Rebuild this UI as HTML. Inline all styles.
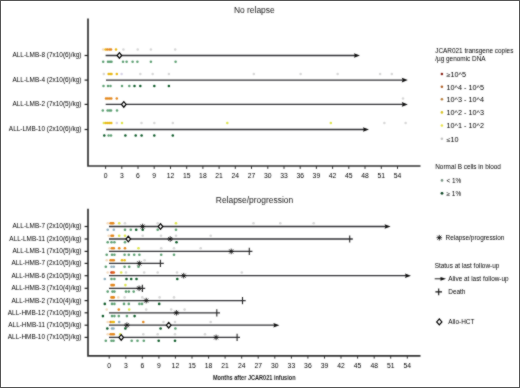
<!DOCTYPE html>
<html><head><meta charset="utf-8"><style>
html,body{margin:0;padding:0;background:#fff;}
svg{display:block;font-family:"Liberation Sans", sans-serif;}
</style></head><body>
<svg width="520" height="388" viewBox="0 0 520 388">
<defs><filter id="bl" x="0" y="0" width="520" height="388" filterUnits="userSpaceOnUse" color-interpolation-filters="sRGB"><feConvolveMatrix order="3" kernelMatrix="1 2 1 2 16 2 1 2 1" divisor="28.0" edgeMode="duplicate"/></filter></defs>
<rect x="0" y="0" width="520" height="388" fill="#fff"/>
<g filter="url(#bl)"><rect x="0" y="0" width="520" height="388" fill="#fff"/>
<text x="254.3" y="13" font-size="8.45" text-anchor="middle" fill="#1a1a1a" >No relapse</text>
<text x="254.5" y="203" font-size="8.45" text-anchor="middle" fill="#1a1a1a" >Relapse/progression</text>
<path d="M88 18.5V166H420.5" fill="none" stroke="#333" stroke-width="1.7"/>
<path d="M105.6 166V168.9" stroke="#333" stroke-width="1"/>
<text x="105.6" y="178.1" font-size="6.3" text-anchor="middle" fill="#000" transform="translate(105.6 0) scale(1.08 1) translate(-105.6 0)">0</text>
<path d="M121.8 166V168.9" stroke="#333" stroke-width="1"/>
<text x="121.8" y="178.1" font-size="6.3" text-anchor="middle" fill="#000" transform="translate(121.8 0) scale(1.08 1) translate(-121.8 0)">3</text>
<path d="M138.0 166V168.9" stroke="#333" stroke-width="1"/>
<text x="138.0" y="178.1" font-size="6.3" text-anchor="middle" fill="#000" transform="translate(138.0 0) scale(1.08 1) translate(-138.0 0)">6</text>
<path d="M154.2 166V168.9" stroke="#333" stroke-width="1"/>
<text x="154.2" y="178.1" font-size="6.3" text-anchor="middle" fill="#000" transform="translate(154.2 0) scale(1.08 1) translate(-154.2 0)">9</text>
<path d="M170.5 166V168.9" stroke="#333" stroke-width="1"/>
<text x="170.5" y="178.1" font-size="6.3" text-anchor="middle" fill="#000" transform="translate(170.5 0) scale(1.08 1) translate(-170.5 0)">12</text>
<path d="M186.7 166V168.9" stroke="#333" stroke-width="1"/>
<text x="186.7" y="178.1" font-size="6.3" text-anchor="middle" fill="#000" transform="translate(186.7 0) scale(1.08 1) translate(-186.7 0)">15</text>
<path d="M202.9 166V168.9" stroke="#333" stroke-width="1"/>
<text x="202.9" y="178.1" font-size="6.3" text-anchor="middle" fill="#000" transform="translate(202.9 0) scale(1.08 1) translate(-202.9 0)">18</text>
<path d="M219.1 166V168.9" stroke="#333" stroke-width="1"/>
<text x="219.1" y="178.1" font-size="6.3" text-anchor="middle" fill="#000" transform="translate(219.1 0) scale(1.08 1) translate(-219.1 0)">21</text>
<path d="M235.3 166V168.9" stroke="#333" stroke-width="1"/>
<text x="235.3" y="178.1" font-size="6.3" text-anchor="middle" fill="#000" transform="translate(235.3 0) scale(1.08 1) translate(-235.3 0)">24</text>
<path d="M251.5 166V168.9" stroke="#333" stroke-width="1"/>
<text x="251.5" y="178.1" font-size="6.3" text-anchor="middle" fill="#000" transform="translate(251.5 0) scale(1.08 1) translate(-251.5 0)">27</text>
<path d="M267.8 166V168.9" stroke="#333" stroke-width="1"/>
<text x="267.8" y="178.1" font-size="6.3" text-anchor="middle" fill="#000" transform="translate(267.8 0) scale(1.08 1) translate(-267.8 0)">30</text>
<path d="M284.0 166V168.9" stroke="#333" stroke-width="1"/>
<text x="284.0" y="178.1" font-size="6.3" text-anchor="middle" fill="#000" transform="translate(284.0 0) scale(1.08 1) translate(-284.0 0)">33</text>
<path d="M300.2 166V168.9" stroke="#333" stroke-width="1"/>
<text x="300.2" y="178.1" font-size="6.3" text-anchor="middle" fill="#000" transform="translate(300.2 0) scale(1.08 1) translate(-300.2 0)">36</text>
<path d="M316.4 166V168.9" stroke="#333" stroke-width="1"/>
<text x="316.4" y="178.1" font-size="6.3" text-anchor="middle" fill="#000" transform="translate(316.4 0) scale(1.08 1) translate(-316.4 0)">39</text>
<path d="M332.6 166V168.9" stroke="#333" stroke-width="1"/>
<text x="332.6" y="178.1" font-size="6.3" text-anchor="middle" fill="#000" transform="translate(332.6 0) scale(1.08 1) translate(-332.6 0)">42</text>
<path d="M348.8 166V168.9" stroke="#333" stroke-width="1"/>
<text x="348.8" y="178.1" font-size="6.3" text-anchor="middle" fill="#000" transform="translate(348.8 0) scale(1.08 1) translate(-348.8 0)">45</text>
<path d="M365.0 166V168.9" stroke="#333" stroke-width="1"/>
<text x="365.0" y="178.1" font-size="6.3" text-anchor="middle" fill="#000" transform="translate(365.0 0) scale(1.08 1) translate(-365.0 0)">48</text>
<path d="M381.3 166V168.9" stroke="#333" stroke-width="1"/>
<text x="381.3" y="178.1" font-size="6.3" text-anchor="middle" fill="#000" transform="translate(381.3 0) scale(1.08 1) translate(-381.3 0)">51</text>
<path d="M397.5 166V168.9" stroke="#333" stroke-width="1"/>
<text x="397.5" y="178.1" font-size="6.3" text-anchor="middle" fill="#000" transform="translate(397.5 0) scale(1.08 1) translate(-397.5 0)">54</text>
<path d="M88 208.8V355.8H420.5" fill="none" stroke="#333" stroke-width="1.7"/>
<path d="M109.2 355.8V358.6" stroke="#333" stroke-width="1"/>
<text x="109.2" y="368.1" font-size="6.3" text-anchor="middle" fill="#000" transform="translate(109.2 0) scale(1.08 1) translate(-109.2 0)">0</text>
<path d="M125.8 355.8V358.6" stroke="#333" stroke-width="1"/>
<text x="125.8" y="368.1" font-size="6.3" text-anchor="middle" fill="#000" transform="translate(125.8 0) scale(1.08 1) translate(-125.8 0)">3</text>
<path d="M142.3 355.8V358.6" stroke="#333" stroke-width="1"/>
<text x="142.3" y="368.1" font-size="6.3" text-anchor="middle" fill="#000" transform="translate(142.3 0) scale(1.08 1) translate(-142.3 0)">6</text>
<path d="M158.9 355.8V358.6" stroke="#333" stroke-width="1"/>
<text x="158.9" y="368.1" font-size="6.3" text-anchor="middle" fill="#000" transform="translate(158.9 0) scale(1.08 1) translate(-158.9 0)">9</text>
<path d="M175.4 355.8V358.6" stroke="#333" stroke-width="1"/>
<text x="175.4" y="368.1" font-size="6.3" text-anchor="middle" fill="#000" transform="translate(175.4 0) scale(1.08 1) translate(-175.4 0)">12</text>
<path d="M192.0 355.8V358.6" stroke="#333" stroke-width="1"/>
<text x="192.0" y="368.1" font-size="6.3" text-anchor="middle" fill="#000" transform="translate(192.0 0) scale(1.08 1) translate(-192.0 0)">15</text>
<path d="M208.6 355.8V358.6" stroke="#333" stroke-width="1"/>
<text x="208.6" y="368.1" font-size="6.3" text-anchor="middle" fill="#000" transform="translate(208.6 0) scale(1.08 1) translate(-208.6 0)">18</text>
<path d="M225.1 355.8V358.6" stroke="#333" stroke-width="1"/>
<text x="225.1" y="368.1" font-size="6.3" text-anchor="middle" fill="#000" transform="translate(225.1 0) scale(1.08 1) translate(-225.1 0)">21</text>
<path d="M241.7 355.8V358.6" stroke="#333" stroke-width="1"/>
<text x="241.7" y="368.1" font-size="6.3" text-anchor="middle" fill="#000" transform="translate(241.7 0) scale(1.08 1) translate(-241.7 0)">24</text>
<path d="M258.2 355.8V358.6" stroke="#333" stroke-width="1"/>
<text x="258.2" y="368.1" font-size="6.3" text-anchor="middle" fill="#000" transform="translate(258.2 0) scale(1.08 1) translate(-258.2 0)">27</text>
<path d="M274.8 355.8V358.6" stroke="#333" stroke-width="1"/>
<text x="274.8" y="368.1" font-size="6.3" text-anchor="middle" fill="#000" transform="translate(274.8 0) scale(1.08 1) translate(-274.8 0)">30</text>
<path d="M291.4 355.8V358.6" stroke="#333" stroke-width="1"/>
<text x="291.4" y="368.1" font-size="6.3" text-anchor="middle" fill="#000" transform="translate(291.4 0) scale(1.08 1) translate(-291.4 0)">33</text>
<path d="M307.9 355.8V358.6" stroke="#333" stroke-width="1"/>
<text x="307.9" y="368.1" font-size="6.3" text-anchor="middle" fill="#000" transform="translate(307.9 0) scale(1.08 1) translate(-307.9 0)">36</text>
<path d="M324.5 355.8V358.6" stroke="#333" stroke-width="1"/>
<text x="324.5" y="368.1" font-size="6.3" text-anchor="middle" fill="#000" transform="translate(324.5 0) scale(1.08 1) translate(-324.5 0)">39</text>
<path d="M341.0 355.8V358.6" stroke="#333" stroke-width="1"/>
<text x="341.0" y="368.1" font-size="6.3" text-anchor="middle" fill="#000" transform="translate(341.0 0) scale(1.08 1) translate(-341.0 0)">42</text>
<path d="M357.6 355.8V358.6" stroke="#333" stroke-width="1"/>
<text x="357.6" y="368.1" font-size="6.3" text-anchor="middle" fill="#000" transform="translate(357.6 0) scale(1.08 1) translate(-357.6 0)">45</text>
<path d="M374.2 355.8V358.6" stroke="#333" stroke-width="1"/>
<text x="374.2" y="368.1" font-size="6.3" text-anchor="middle" fill="#000" transform="translate(374.2 0) scale(1.08 1) translate(-374.2 0)">48</text>
<path d="M390.7 355.8V358.6" stroke="#333" stroke-width="1"/>
<text x="390.7" y="368.1" font-size="6.3" text-anchor="middle" fill="#000" transform="translate(390.7 0) scale(1.08 1) translate(-390.7 0)">51</text>
<path d="M407.3 355.8V358.6" stroke="#333" stroke-width="1"/>
<text x="407.3" y="368.1" font-size="6.3" text-anchor="middle" fill="#000" transform="translate(407.3 0) scale(1.08 1) translate(-407.3 0)">54</text>
<text x="254.25" y="380.4" font-size="8.1" text-anchor="middle" fill="#1a1a1a" transform="translate(254.25 0) scale(0.69 1) translate(-254.25 0)" font-weight="bold">Months after JCAR021 infusion</text>
<text x="81.5" y="57.4" font-size="6.45" text-anchor="end" fill="#000" >ALL-LMB-8 (7x10(6)/kg)</text>
<path d="M84.6 55.5H88" stroke="#222" stroke-width="1.2"/>
<text x="81.5" y="82.0" font-size="6.45" text-anchor="end" fill="#000" >ALL-LMB-4 (2x10(6)/kg)</text>
<path d="M84.6 80.1H88" stroke="#222" stroke-width="1.2"/>
<text x="81.5" y="106.3" font-size="6.45" text-anchor="end" fill="#000" >ALL-LMB-2 (7x10(5)/kg)</text>
<path d="M84.6 104.4H88" stroke="#222" stroke-width="1.2"/>
<text x="81.5" y="131.4" font-size="6.45" text-anchor="end" fill="#000" >ALL-LMB-10 (2x10(6)/kg)</text>
<path d="M84.6 129.5H88" stroke="#222" stroke-width="1.2"/>
<text x="81.5" y="228.4" font-size="6.45" text-anchor="end" fill="#000" >ALL-LMB-7 (2x10(6)/kg)</text>
<path d="M84.6 226.5H88" stroke="#222" stroke-width="1.2"/>
<text x="81.5" y="240.9" font-size="6.45" text-anchor="end" fill="#000" >ALL-LMB-11 (2x10(6)/kg)</text>
<path d="M84.6 239.0H88" stroke="#222" stroke-width="1.2"/>
<text x="81.5" y="253.3" font-size="6.45" text-anchor="end" fill="#000" >ALL-LMB-1 (7x10(5)/kg)</text>
<path d="M84.6 251.4H88" stroke="#222" stroke-width="1.2"/>
<text x="81.5" y="265.3" font-size="6.45" text-anchor="end" fill="#000" >ALL-HMB-7 (2x10(5)/kg)</text>
<path d="M84.6 263.4H88" stroke="#222" stroke-width="1.2"/>
<text x="81.5" y="277.6" font-size="6.45" text-anchor="end" fill="#000" >ALL-HMB-6 (2x10(5)/kg)</text>
<path d="M84.6 275.7H88" stroke="#222" stroke-width="1.2"/>
<text x="81.5" y="290.2" font-size="6.45" text-anchor="end" fill="#000" >ALL-HMB-3 (7x10(4)/kg)</text>
<path d="M84.6 288.3H88" stroke="#222" stroke-width="1.2"/>
<text x="81.5" y="302.5" font-size="6.45" text-anchor="end" fill="#000" >ALL-HMB-2 (7x10(4)/kg)</text>
<path d="M84.6 300.6H88" stroke="#222" stroke-width="1.2"/>
<text x="81.5" y="314.7" font-size="6.45" text-anchor="end" fill="#000" >ALL-HMB-12 (7x10(5)/kg)</text>
<path d="M84.6 312.8H88" stroke="#222" stroke-width="1.2"/>
<text x="81.5" y="327.1" font-size="6.45" text-anchor="end" fill="#000" >ALL-HMB-11 (7x10(5)/kg)</text>
<path d="M84.6 325.2H88" stroke="#222" stroke-width="1.2"/>
<text x="81.5" y="339.3" font-size="6.45" text-anchor="end" fill="#000" >ALL-HMB-10 (7x10(5)/kg)</text>
<path d="M84.6 337.4H88" stroke="#222" stroke-width="1.2"/>
<path d="M105.6 55.5H355.0" stroke="#303034" stroke-width="1.3"/>
<path d="M354.0 53.2L360.0 55.5L354.0 57.8L354.8 55.5Z" fill="#111"/>
<circle cx="103.1" cy="49.5" r="1.25" fill="#f4dcc0"/>
<circle cx="105.5" cy="49.5" r="1.25" fill="#e8b812"/>
<circle cx="107.3" cy="49.5" r="1.25" fill="#e3861a"/>
<circle cx="109.4" cy="49.5" r="1.25" fill="#e3861a"/>
<circle cx="111.0" cy="49.5" r="1.25" fill="#e3861a"/>
<circle cx="116.0" cy="49.5" r="1.25" fill="#e8b812"/>
<circle cx="123.4" cy="49.5" r="1.25" fill="#d6d6d6"/>
<circle cx="137.7" cy="49.5" r="1.25" fill="#d6d6d6"/>
<circle cx="150.9" cy="49.5" r="1.25" fill="#d6d6d6"/>
<circle cx="175.2" cy="49.5" r="1.25" fill="#d6d6d6"/>
<circle cx="103.2" cy="61.8" r="1.25" fill="#5c9f72"/>
<circle cx="108.0" cy="61.8" r="1.25" fill="#5c9f72"/>
<circle cx="110.0" cy="61.8" r="1.25" fill="#5c9f72"/>
<circle cx="111.5" cy="61.8" r="1.25" fill="#5c9f72"/>
<circle cx="123.0" cy="61.8" r="1.25" fill="#5c9f72"/>
<circle cx="126.6" cy="61.8" r="1.25" fill="#5c9f72"/>
<circle cx="132.6" cy="61.8" r="1.25" fill="#5c9f72"/>
<circle cx="137.4" cy="61.8" r="1.25" fill="#5c9f72"/>
<circle cx="150.9" cy="61.8" r="1.25" fill="#5c9f72"/>
<circle cx="175.6" cy="61.8" r="1.25" fill="#5c9f72"/>
<path d="M119.4 52.7L121.7 55.5L119.4 58.2L117.1 55.5Z" fill="#fff" stroke="#000" stroke-width="1.2"/>
<path d="M106.0 80.1H402.8" stroke="#303034" stroke-width="1.3"/>
<path d="M401.8 77.8L407.8 80.1L401.8 82.4L402.6 80.1Z" fill="#111"/>
<circle cx="103.8" cy="74.1" r="1.25" fill="#d6d6d6"/>
<circle cx="108.6" cy="74.1" r="1.25" fill="#e8b812"/>
<circle cx="110.2" cy="74.1" r="1.25" fill="#e8b812"/>
<circle cx="111.5" cy="74.1" r="1.25" fill="#e8b812"/>
<circle cx="116.8" cy="74.1" r="1.25" fill="#e8b812"/>
<circle cx="121.6" cy="74.1" r="1.25" fill="#d6d2e6"/>
<circle cx="140.3" cy="74.1" r="1.25" fill="#d6d6d6"/>
<circle cx="152.7" cy="74.1" r="1.25" fill="#d6d6d6"/>
<circle cx="168.9" cy="74.1" r="1.25" fill="#d6d6d6"/>
<circle cx="253.8" cy="74.1" r="1.25" fill="#d6d6d6"/>
<circle cx="300.6" cy="74.1" r="1.25" fill="#d6d6d6"/>
<circle cx="337.6" cy="74.1" r="1.25" fill="#d6d6d6"/>
<circle cx="380.1" cy="74.1" r="1.25" fill="#d6d6d6"/>
<circle cx="391.8" cy="74.1" r="1.25" fill="#d6d6d6"/>
<circle cx="103.5" cy="86.1" r="1.25" fill="#5c9f72"/>
<circle cx="108.0" cy="86.1" r="1.25" fill="#5c9f72"/>
<circle cx="110.5" cy="86.1" r="1.25" fill="#5c9f72"/>
<circle cx="122.0" cy="86.1" r="1.25" fill="#5c9f72"/>
<circle cx="129.3" cy="86.1" r="1.25" fill="#5c9f72"/>
<circle cx="134.5" cy="86.1" r="1.25" fill="#0c5a28"/>
<circle cx="140.3" cy="86.1" r="1.25" fill="#0c5a28"/>
<circle cx="154.3" cy="86.1" r="1.25" fill="#0c5a28"/>
<circle cx="168.9" cy="86.1" r="1.25" fill="#0c5a28"/>
<path d="M105.7 104.4H402.8" stroke="#303034" stroke-width="1.3"/>
<path d="M401.8 102.1L407.8 104.4L401.8 106.7L402.6 104.4Z" fill="#111"/>
<circle cx="106.0" cy="98.6" r="1.25" fill="#e3861a"/>
<circle cx="107.8" cy="98.6" r="1.25" fill="#e3861a"/>
<circle cx="109.6" cy="98.6" r="1.25" fill="#e3861a"/>
<circle cx="111.3" cy="98.6" r="1.25" fill="#e3861a"/>
<circle cx="116.8" cy="98.6" r="1.25" fill="#e3861a"/>
<circle cx="403.0" cy="98.6" r="1.25" fill="#d6d6d6"/>
<circle cx="102.8" cy="110.6" r="1.25" fill="#5c9f72"/>
<circle cx="107.6" cy="110.6" r="1.25" fill="#5c9f72"/>
<circle cx="109.4" cy="110.6" r="1.25" fill="#5c9f72"/>
<circle cx="111.0" cy="110.6" r="1.25" fill="#5c9f72"/>
<circle cx="117.0" cy="110.6" r="1.25" fill="#5c9f72"/>
<path d="M123.8 101.6L126.1 104.4L123.8 107.2L121.5 104.4Z" fill="#fff" stroke="#000" stroke-width="1.2"/>
<path d="M106.2 129.5H364.0" stroke="#303034" stroke-width="1.3"/>
<path d="M363.0 127.2L369.0 129.5L363.0 131.8L363.8 129.5Z" fill="#111"/>
<circle cx="103.8" cy="123.1" r="1.25" fill="#dde44a"/>
<circle cx="105.8" cy="123.1" r="1.25" fill="#e8b812"/>
<circle cx="107.8" cy="123.1" r="1.25" fill="#e8b812"/>
<circle cx="109.6" cy="123.1" r="1.25" fill="#e8b812"/>
<circle cx="111.3" cy="123.1" r="1.25" fill="#e8b812"/>
<circle cx="116.8" cy="123.1" r="1.25" fill="#d6d2e6"/>
<circle cx="122.0" cy="123.1" r="1.25" fill="#dde44a"/>
<circle cx="141.5" cy="123.1" r="1.25" fill="#d6d6d6"/>
<circle cx="154.3" cy="123.1" r="1.25" fill="#d6d6d6"/>
<circle cx="172.8" cy="123.1" r="1.25" fill="#d6d6d6"/>
<circle cx="227.3" cy="123.1" r="1.25" fill="#dde44a"/>
<circle cx="330.8" cy="123.1" r="1.25" fill="#dde44a"/>
<circle cx="384.4" cy="123.1" r="1.25" fill="#d6d6d6"/>
<circle cx="405.6" cy="123.1" r="1.25" fill="#d6d6d6"/>
<circle cx="104.3" cy="135.6" r="1.25" fill="#0c5a28"/>
<circle cx="108.6" cy="135.6" r="1.25" fill="#5c9f72"/>
<circle cx="111.0" cy="135.6" r="1.25" fill="#5c9f72"/>
<circle cx="125.4" cy="135.6" r="1.25" fill="#0c5a28"/>
<circle cx="135.7" cy="135.6" r="1.25" fill="#0c5a28"/>
<circle cx="141.6" cy="135.6" r="1.25" fill="#0c5a28"/>
<circle cx="154.3" cy="135.6" r="1.25" fill="#0c5a28"/>
<circle cx="172.8" cy="135.6" r="1.25" fill="#0c5a28"/>
<path d="M109.0 226.5H385.6" stroke="#303034" stroke-width="1.3"/>
<path d="M384.6 224.2L390.6 226.5L384.6 228.8L385.4 226.5Z" fill="#111"/>
<path d="M109.0 239.0H352.8" stroke="#303034" stroke-width="1.3"/>
<path d="M109.0 251.4H252.4" stroke="#303034" stroke-width="1.3"/>
<path d="M109.0 263.4H163.8" stroke="#303034" stroke-width="1.3"/>
<path d="M109.0 275.7H406.0" stroke="#303034" stroke-width="1.3"/>
<path d="M405.0 273.4L411.0 275.7L405.0 278.0L405.8 275.7Z" fill="#111"/>
<path d="M109.0 288.3H145.2" stroke="#303034" stroke-width="1.3"/>
<path d="M109.0 300.6H245.7" stroke="#303034" stroke-width="1.3"/>
<path d="M109.0 312.8H220.0" stroke="#303034" stroke-width="1.3"/>
<path d="M109.0 325.2H274.4" stroke="#303034" stroke-width="1.3"/>
<path d="M273.4 322.9L279.4 325.2L273.4 327.5L274.2 325.2Z" fill="#111"/>
<path d="M109.0 337.4H240.0" stroke="#303034" stroke-width="1.3"/>
<circle cx="107.7" cy="223.3" r="1.3" fill="#f4dcc0"/>
<circle cx="110.6" cy="223.3" r="1.3" fill="#e3861a"/>
<circle cx="112.0" cy="223.3" r="1.3" fill="#e3861a"/>
<circle cx="113.2" cy="223.3" r="1.3" fill="#e3861a"/>
<circle cx="119.2" cy="223.3" r="1.3" fill="#dde44a"/>
<circle cx="125.0" cy="223.3" r="1.3" fill="#d6d6d6"/>
<circle cx="157.7" cy="223.3" r="1.3" fill="#d6d6d6"/>
<circle cx="176.0" cy="223.3" r="1.3" fill="#dde44a"/>
<circle cx="253.5" cy="223.3" r="1.3" fill="#d6d6d6"/>
<circle cx="280.3" cy="223.3" r="1.3" fill="#d6d6d6"/>
<circle cx="313.7" cy="223.3" r="1.3" fill="#d6d6d6"/>
<circle cx="107.7" cy="229.8" r="1.3" fill="#8fb0c0"/>
<circle cx="113.8" cy="229.8" r="1.3" fill="#8fb0c0"/>
<circle cx="125.0" cy="229.8" r="1.3" fill="#5c9f72"/>
<circle cx="130.8" cy="229.8" r="1.3" fill="#5c9f72"/>
<circle cx="136.2" cy="229.8" r="1.3" fill="#0c5a28"/>
<circle cx="142.7" cy="229.8" r="1.3" fill="#0c5a28"/>
<circle cx="157.7" cy="229.8" r="1.3" fill="#5c9f72"/>
<circle cx="176.0" cy="229.8" r="1.3" fill="#5c9f72"/>
<circle cx="108.7" cy="235.8" r="1.3" fill="#f4dcc0"/>
<circle cx="111.5" cy="235.8" r="1.3" fill="#e3861a"/>
<circle cx="113.0" cy="235.8" r="1.3" fill="#e3861a"/>
<circle cx="119.2" cy="235.8" r="1.3" fill="#dde44a"/>
<circle cx="125.0" cy="235.8" r="1.3" fill="#dde44a"/>
<circle cx="142.7" cy="235.8" r="1.3" fill="#d6d6d6"/>
<circle cx="161.0" cy="235.8" r="1.3" fill="#d6d6d6"/>
<circle cx="176.0" cy="235.8" r="1.3" fill="#d6d6d6"/>
<circle cx="210.7" cy="235.8" r="1.3" fill="#d6d6d6"/>
<circle cx="107.7" cy="242.3" r="1.3" fill="#5c9f72"/>
<circle cx="111.5" cy="242.3" r="1.3" fill="#5c9f72"/>
<circle cx="114.4" cy="242.3" r="1.3" fill="#5c9f72"/>
<circle cx="125.0" cy="242.3" r="1.3" fill="#5c9f72"/>
<circle cx="176.5" cy="242.3" r="1.3" fill="#0c5a28"/>
<circle cx="109.6" cy="248.2" r="1.3" fill="#f4dcc0"/>
<circle cx="112.0" cy="248.2" r="1.3" fill="#e3861a"/>
<circle cx="113.8" cy="248.2" r="1.3" fill="#e3861a"/>
<circle cx="119.2" cy="248.2" r="1.3" fill="#e3861a"/>
<circle cx="125.0" cy="248.2" r="1.3" fill="#e3861a"/>
<circle cx="138.5" cy="248.2" r="1.3" fill="#dde44a"/>
<circle cx="161.2" cy="248.2" r="1.3" fill="#d6d6d6"/>
<circle cx="174.0" cy="248.2" r="1.3" fill="#d6d6d6"/>
<circle cx="200.7" cy="248.2" r="1.3" fill="#d6d6d6"/>
<circle cx="106.7" cy="254.8" r="1.3" fill="#5c9f72"/>
<circle cx="112.0" cy="254.8" r="1.3" fill="#5c9f72"/>
<circle cx="114.4" cy="254.8" r="1.3" fill="#5c9f72"/>
<circle cx="124.6" cy="254.8" r="1.3" fill="#5c9f72"/>
<circle cx="128.8" cy="254.8" r="1.3" fill="#5c9f72"/>
<circle cx="134.2" cy="254.8" r="1.3" fill="#5c9f72"/>
<circle cx="139.4" cy="254.8" r="1.3" fill="#5c9f72"/>
<circle cx="161.2" cy="254.8" r="1.3" fill="#5c9f72"/>
<circle cx="174.0" cy="254.8" r="1.3" fill="#5c9f72"/>
<circle cx="106.7" cy="260.2" r="1.3" fill="#f4dcc0"/>
<circle cx="110.6" cy="260.2" r="1.3" fill="#e3861a"/>
<circle cx="112.2" cy="260.2" r="1.3" fill="#e3861a"/>
<circle cx="113.8" cy="260.2" r="1.3" fill="#e3861a"/>
<circle cx="122.0" cy="260.2" r="1.3" fill="#e8b812"/>
<circle cx="124.6" cy="260.2" r="1.3" fill="#e8b812"/>
<circle cx="144.6" cy="260.2" r="1.3" fill="#d6d6d6"/>
<circle cx="105.8" cy="266.8" r="1.3" fill="#5c9f72"/>
<circle cx="111.5" cy="266.8" r="1.3" fill="#8fb0c0"/>
<circle cx="113.8" cy="266.8" r="1.3" fill="#8fb0c0"/>
<circle cx="124.6" cy="266.8" r="1.3" fill="#5c9f72"/>
<circle cx="129.2" cy="266.8" r="1.3" fill="#5c9f72"/>
<circle cx="138.5" cy="266.8" r="1.3" fill="#5c9f72"/>
<circle cx="107.7" cy="272.5" r="1.3" fill="#f4dcc0"/>
<circle cx="111.5" cy="272.5" r="1.3" fill="#c0281a"/>
<circle cx="112.7" cy="272.5" r="1.3" fill="#e0601a"/>
<circle cx="113.8" cy="272.5" r="1.3" fill="#e0601a"/>
<circle cx="121.2" cy="272.5" r="1.3" fill="#dde44a"/>
<circle cx="126.0" cy="272.5" r="1.3" fill="#d6d6d6"/>
<circle cx="144.2" cy="272.5" r="1.3" fill="#d6d6d6"/>
<circle cx="157.7" cy="272.5" r="1.3" fill="#d6d6d6"/>
<circle cx="177.0" cy="272.5" r="1.3" fill="#d6d6d6"/>
<circle cx="241.8" cy="272.5" r="1.3" fill="#d6d6d6"/>
<circle cx="104.8" cy="279.0" r="1.3" fill="#8fb0c0"/>
<circle cx="111.5" cy="279.0" r="1.3" fill="#5c9f72"/>
<circle cx="114.4" cy="279.0" r="1.3" fill="#5c9f72"/>
<circle cx="126.5" cy="279.0" r="1.3" fill="#0c5a28"/>
<circle cx="131.2" cy="279.0" r="1.3" fill="#0c5a28"/>
<circle cx="136.5" cy="279.0" r="1.3" fill="#0c5a28"/>
<circle cx="177.3" cy="279.0" r="1.3" fill="#0c5a28"/>
<circle cx="111.5" cy="285.1" r="1.3" fill="#e3861a"/>
<circle cx="112.7" cy="285.1" r="1.3" fill="#e3861a"/>
<circle cx="113.8" cy="285.1" r="1.3" fill="#e3861a"/>
<circle cx="125.4" cy="285.1" r="1.3" fill="#dde44a"/>
<circle cx="107.7" cy="291.6" r="1.3" fill="#5c9f72"/>
<circle cx="112.5" cy="291.6" r="1.3" fill="#5c9f72"/>
<circle cx="114.4" cy="291.6" r="1.3" fill="#5c9f72"/>
<circle cx="126.0" cy="291.6" r="1.3" fill="#5c9f72"/>
<circle cx="128.8" cy="291.6" r="1.3" fill="#5c9f72"/>
<circle cx="133.7" cy="291.6" r="1.3" fill="#5c9f72"/>
<circle cx="111.5" cy="297.4" r="1.3" fill="#e3861a"/>
<circle cx="112.7" cy="297.4" r="1.3" fill="#e3861a"/>
<circle cx="113.8" cy="297.4" r="1.3" fill="#e3861a"/>
<circle cx="118.3" cy="297.4" r="1.3" fill="#f4dcc0"/>
<circle cx="124.6" cy="297.4" r="1.3" fill="#d6d6d6"/>
<circle cx="142.3" cy="297.4" r="1.3" fill="#d6d6d6"/>
<circle cx="159.6" cy="297.4" r="1.3" fill="#d6d6d6"/>
<circle cx="174.0" cy="297.4" r="1.3" fill="#d6d6d6"/>
<circle cx="104.8" cy="303.9" r="1.3" fill="#0c5a28"/>
<circle cx="112.0" cy="303.9" r="1.3" fill="#5c9f72"/>
<circle cx="114.4" cy="303.9" r="1.3" fill="#5c9f72"/>
<circle cx="124.0" cy="303.9" r="1.3" fill="#5c9f72"/>
<circle cx="128.8" cy="303.9" r="1.3" fill="#5c9f72"/>
<circle cx="139.4" cy="303.9" r="1.3" fill="#5c9f72"/>
<circle cx="142.0" cy="303.9" r="1.3" fill="#5c9f72"/>
<circle cx="159.2" cy="303.9" r="1.3" fill="#0c5a28"/>
<circle cx="106.7" cy="309.6" r="1.3" fill="#f4dcc0"/>
<circle cx="118.8" cy="309.6" r="1.3" fill="#e3861a"/>
<circle cx="129.2" cy="309.6" r="1.3" fill="#dde44a"/>
<circle cx="146.2" cy="309.6" r="1.3" fill="#d6d6d6"/>
<circle cx="171.2" cy="309.6" r="1.3" fill="#d6d6d6"/>
<circle cx="184.6" cy="309.6" r="1.3" fill="#d6d6d6"/>
<circle cx="102.9" cy="316.1" r="1.3" fill="#0c5a28"/>
<circle cx="112.0" cy="316.1" r="1.3" fill="#5c9f72"/>
<circle cx="114.4" cy="316.1" r="1.3" fill="#5c9f72"/>
<circle cx="118.8" cy="316.1" r="1.3" fill="#5c9f72"/>
<circle cx="126.9" cy="316.1" r="1.3" fill="#5c9f72"/>
<circle cx="134.6" cy="316.1" r="1.3" fill="#0c5a28"/>
<circle cx="107.7" cy="322.0" r="1.3" fill="#f4dcc0"/>
<circle cx="110.6" cy="322.0" r="1.3" fill="#e3861a"/>
<circle cx="112.2" cy="322.0" r="1.3" fill="#e8b812"/>
<circle cx="113.8" cy="322.0" r="1.3" fill="#e8b812"/>
<circle cx="119.2" cy="322.0" r="1.3" fill="#8fb0c0"/>
<circle cx="143.3" cy="322.0" r="1.3" fill="#e3861a"/>
<circle cx="163.5" cy="322.0" r="1.3" fill="#d6d6d6"/>
<circle cx="175.0" cy="322.0" r="1.3" fill="#d6d6d6"/>
<circle cx="210.7" cy="322.0" r="1.3" fill="#d6d6d6"/>
<circle cx="107.3" cy="328.5" r="1.3" fill="#0c5a28"/>
<circle cx="112.0" cy="328.5" r="1.3" fill="#8fb0c0"/>
<circle cx="113.5" cy="328.5" r="1.3" fill="#8fb0c0"/>
<circle cx="125.4" cy="328.5" r="1.3" fill="#0c5a28"/>
<circle cx="160.6" cy="328.5" r="1.3" fill="#0c5a28"/>
<circle cx="175.4" cy="328.5" r="1.3" fill="#5c9f72"/>
<circle cx="107.7" cy="334.2" r="1.3" fill="#f4dcc0"/>
<circle cx="110.6" cy="334.2" r="1.3" fill="#e3861a"/>
<circle cx="112.2" cy="334.2" r="1.3" fill="#e3861a"/>
<circle cx="113.8" cy="334.2" r="1.3" fill="#e3861a"/>
<circle cx="120.2" cy="334.2" r="1.3" fill="#dde44a"/>
<circle cx="143.3" cy="334.2" r="1.3" fill="#d6d6d6"/>
<circle cx="157.7" cy="334.2" r="1.3" fill="#d6d6d6"/>
<circle cx="175.0" cy="334.2" r="1.3" fill="#d6d6d6"/>
<circle cx="205.0" cy="334.2" r="1.3" fill="#d6d6d6"/>
<circle cx="105.8" cy="340.7" r="1.3" fill="#5c9f72"/>
<circle cx="111.5" cy="340.7" r="1.3" fill="#5c9f72"/>
<circle cx="113.5" cy="340.7" r="1.3" fill="#5c9f72"/>
<circle cx="131.7" cy="340.7" r="1.3" fill="#5c9f72"/>
<circle cx="137.5" cy="340.7" r="1.3" fill="#5c9f72"/>
<circle cx="143.8" cy="340.7" r="1.3" fill="#5c9f72"/>
<circle cx="158.7" cy="340.7" r="1.3" fill="#0c5a28"/>
<circle cx="175.0" cy="340.7" r="1.3" fill="#0c5a28"/>
<path d="M139.8 226.5H145.4M142.6 223.7V229.3M140.6 224.5L144.6 228.5M140.6 228.5L144.6 224.5" stroke="#111" stroke-width="0.85"/>
<circle cx="142.6" cy="226.5" r="0.75" fill="#111"/>
<path d="M160.5 223.7L162.8 226.5L160.5 229.3L158.2 226.5Z" fill="#fff" stroke="#000" stroke-width="1.2"/>
<path d="M128.3 236.2L130.6 239.0L128.3 241.8L126.0 239.0Z" fill="#fff" stroke="#000" stroke-width="1.2"/>
<path d="M167.4 239.0H173.0M170.2 236.2V241.8M168.2 237.0L172.2 241.0M168.2 241.0L172.2 237.0" stroke="#111" stroke-width="0.85"/>
<circle cx="170.2" cy="239.0" r="0.75" fill="#111"/>
<path d="M349.7 235.4V242.6" stroke="#222" stroke-width="1.1"/>
<path d="M228.4 251.4H234.0M231.2 248.6V254.2M229.2 249.4L233.2 253.5M229.2 253.5L233.2 249.4" stroke="#111" stroke-width="0.85"/>
<circle cx="231.2" cy="251.4" r="0.75" fill="#111"/>
<path d="M249.3 247.8V255.0" stroke="#222" stroke-width="1.1"/>
<path d="M136.5 263.4H142.1M139.3 260.6V266.2M137.3 261.4L141.3 265.5M137.3 265.5L141.3 261.4" stroke="#111" stroke-width="0.85"/>
<circle cx="139.3" cy="263.4" r="0.75" fill="#111"/>
<path d="M160.4 259.8V267.1" stroke="#222" stroke-width="1.1"/>
<path d="M180.9 275.7H186.5M183.7 272.9V278.5M181.7 273.7L185.7 277.7M181.7 277.7L185.7 273.7" stroke="#111" stroke-width="0.85"/>
<circle cx="183.7" cy="275.7" r="0.75" fill="#111"/>
<path d="M136.3 288.3H141.9M139.1 285.5V291.1M137.1 286.3L141.1 290.3M137.1 290.3L141.1 286.3" stroke="#111" stroke-width="0.85"/>
<circle cx="139.1" cy="288.3" r="0.75" fill="#111"/>
<path d="M142.4 284.7V291.9" stroke="#222" stroke-width="1.1"/>
<path d="M143.4 300.6H149.0M146.2 297.8V303.4M144.2 298.6L148.2 302.6M144.2 302.6L148.2 298.6" stroke="#111" stroke-width="0.85"/>
<circle cx="146.2" cy="300.6" r="0.75" fill="#111"/>
<path d="M242.5 297.0V304.2" stroke="#222" stroke-width="1.1"/>
<path d="M173.6 312.8H179.2M176.4 310.0V315.6M174.4 310.8L178.4 314.8M174.4 314.8L178.4 310.8" stroke="#111" stroke-width="0.85"/>
<circle cx="176.4" cy="312.8" r="0.75" fill="#111"/>
<path d="M216.8 309.2V316.4" stroke="#222" stroke-width="1.1"/>
<path d="M124.1 325.2H129.7M126.9 322.4V328.0M124.9 323.2L128.9 327.2M124.9 327.2L128.9 323.2" stroke="#111" stroke-width="0.85"/>
<circle cx="126.9" cy="325.2" r="0.75" fill="#111"/>
<path d="M168.7 322.4L171.0 325.2L168.7 328.0L166.4 325.2Z" fill="#fff" stroke="#000" stroke-width="1.2"/>
<path d="M121.2 334.6L123.5 337.4L121.2 340.2L118.9 337.4Z" fill="#fff" stroke="#000" stroke-width="1.2"/>
<path d="M213.3 337.4H218.9M216.1 334.6V340.2M214.1 335.4L218.1 339.4M214.1 339.4L218.1 335.4" stroke="#111" stroke-width="0.85"/>
<circle cx="216.1" cy="337.4" r="0.75" fill="#111"/>
<path d="M237.1 333.8V341.0" stroke="#222" stroke-width="1.1"/>
<text x="435.2" y="53.1" font-size="6.43" text-anchor="start" fill="#000" >JCAR021 transgene copies</text>
<text x="435.2" y="61.3" font-size="6.43" text-anchor="start" fill="#000" >/µg genomic DNA</text>
<circle cx="441.9" cy="74.0" r="1.3" fill="#8a2418"/>
<text x="446.5" y="76.9" font-size="6.43" text-anchor="start" fill="#000" transform="translate(446.5 0) scale(1.13 1) translate(-446.5 0)">≥10^5</text>
<circle cx="441.9" cy="86.8" r="1.3" fill="#b06028"/>
<text x="446.5" y="89.7" font-size="6.43" text-anchor="start" fill="#000" transform="translate(446.5 0) scale(1.13 1) translate(-446.5 0)">10^4 - 10^5</text>
<circle cx="441.9" cy="99.2" r="1.3" fill="#b88040"/>
<text x="446.5" y="102.1" font-size="6.43" text-anchor="start" fill="#000" transform="translate(446.5 0) scale(1.13 1) translate(-446.5 0)">10^3 - 10^4</text>
<circle cx="441.9" cy="112.4" r="1.3" fill="#d8c428"/>
<text x="446.5" y="115.3" font-size="6.43" text-anchor="start" fill="#000" transform="translate(446.5 0) scale(1.13 1) translate(-446.5 0)">10^2 - 10^3</text>
<circle cx="441.9" cy="125.5" r="1.3" fill="#e8e24a"/>
<text x="446.5" y="128.4" font-size="6.43" text-anchor="start" fill="#000" transform="translate(446.5 0) scale(1.13 1) translate(-446.5 0)">10^1 - 10^2</text>
<circle cx="441.9" cy="138.7" r="1.3" fill="#c4c4c4"/>
<text x="446.5" y="141.6" font-size="6.43" text-anchor="start" fill="#000" transform="translate(446.5 0) scale(1.13 1) translate(-446.5 0)">≤10</text>
<text x="435.2" y="168.5" font-size="6.43" text-anchor="start" fill="#000" >Normal B cells in blood</text>
<circle cx="442" cy="180.4" r="1.3" fill="#7a9484"/>
<text x="446.5" y="182.7" font-size="6.43" text-anchor="start" fill="#000" >&lt; 1%</text>
<circle cx="442" cy="193.3" r="1.4" fill="#0a4422"/>
<text x="446.5" y="195.6" font-size="6.43" text-anchor="start" fill="#000" >≥ 1%</text>
<path d="M436.5 237.7H442.1M439.3 234.9V240.5M437.3 235.7L441.3 239.7M437.3 239.7L441.3 235.7" stroke="#111" stroke-width="0.85"/>
<circle cx="439.3" cy="237.7" r="0.75" fill="#111"/>
<text x="445.5" y="240.0" font-size="6.43" text-anchor="start" fill="#000" >Relapse/progression</text>
<text x="434.7" y="267.5" font-size="6.43" text-anchor="start" fill="#000" >Status at last follow-up</text>
<path d="M434.7 278.8H441" stroke="#222" stroke-width="1"/>
<path d="M440.5 276.9L446 278.8L440.5 280.7Z" fill="#111"/>
<text x="448.3" y="281.1" font-size="6.43" text-anchor="start" fill="#000" >Alive at last follow-up</text>
<path d="M435.4 291.9H442M438.7 288.6V295.2" stroke="#111" stroke-width="1.1"/>
<text x="448.3" y="294.2" font-size="6.43" text-anchor="start" fill="#000" >Death</text>
<path d="M439.3 318.9L441.9 321.9L439.3 324.9L436.7 321.9Z" fill="#fff" stroke="#000" stroke-width="1.2"/>
<text x="448.3" y="324.2" font-size="6.43" text-anchor="start" fill="#000" >Allo-HCT</text>
</g>
<rect x="0.5" y="0.5" width="519" height="387" fill="none" stroke="#555" stroke-width="1"/>
</svg></body></html>
